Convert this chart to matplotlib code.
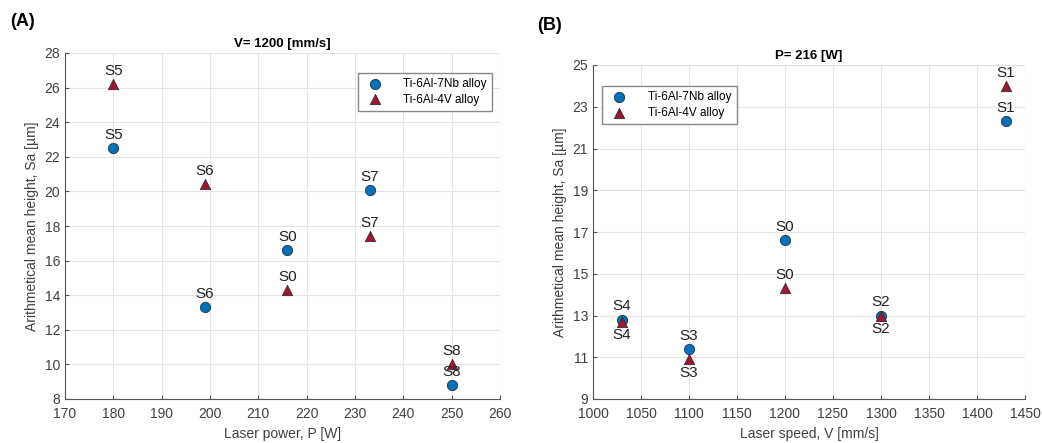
import matplotlib.pyplot as plt

plt.rcParams['font.family'] = ['Liberation Sans', 'DejaVu Sans']

# Panel A: constant speed V = 1200 mm/s
power = [180, 199, 216, 233, 250]
power_labels = ['S5', 'S6', 'S0', 'S7', 'S8']
sa_nb_power = [22.5, 13.3, 16.6, 20.1, 8.8]
sa_v_power = [26.2, 20.4, 14.3, 17.4, 10.0]

# Panel B: constant power P = 216 W
speed = [1030, 1100, 1200, 1300, 1430]
speed_labels = ['S4', 'S3', 'S0', 'S2', 'S1']
sa_nb_speed = [12.8, 11.4, 16.6, 13.0, 22.3]
sa_v_speed = [12.7, 10.9, 14.3, 13.0, 24.0]
# label above (+1) or below (-1) the marker
nb_side_speed = [1, 1, 1, 1, 1]
v_side_speed = [-1, -1, 1, -1, 1]

NB_COLOR = '#0072BD'
V_COLOR = '#A2142F'
TEXT = '#404040'


def style_axes(ax):
    ax.grid(True, color='#e3e3e3', linewidth=0.8)
    ax.set_axisbelow(True)
    for s in ['top', 'right']:
        ax.spines[s].set_visible(False)
    for s in ['left', 'bottom']:
        ax.spines[s].set_color('#555555')
        ax.spines[s].set_linewidth(0.8)
    ax.tick_params(direction='in', length=3, color='#555555',
                   labelcolor=TEXT, labelsize=10)
    ax.tick_params(axis='x', pad=6)


def panel(ax, x, nb, v, labels, nb_side, v_side, dy):
    ax.scatter(x, nb, s=55, marker='o', color=NB_COLOR, edgecolor='#303030',
               linewidth=0.6, zorder=3, label='Ti-6Al-7Nb alloy')
    ax.scatter(x, v, s=55, marker='^', color=V_COLOR, edgecolor='#303030',
               linewidth=0.6, zorder=3, label='Ti-6Al-4V alloy')
    for xi, yi, lab, sd in zip(x, nb, labels, nb_side):
        ax.text(xi, yi + sd * dy, lab, ha='center',
                va='bottom' if sd > 0 else 'top', fontsize=11, color='#222222')
    for xi, yi, lab, sd in zip(x, v, labels, v_side):
        ax.text(xi, yi + sd * dy, lab, ha='center',
                va='bottom' if sd > 0 else 'top', fontsize=11, color='#222222')


def add_legend(ax, loc, anchor):
    ax.legend(loc=loc, bbox_to_anchor=anchor, fontsize=8.5,
              frameon=True, fancybox=False, edgecolor='#888888',
              framealpha=1, handletextpad=1.4, borderpad=0.45,
              labelspacing=0.3)


fig = plt.figure(figsize=(10.42, 4.43), dpi=100)
ax1 = fig.add_axes([65 / 1042, 1 - 399 / 443, 435 / 1042, 346 / 443])
ax2 = fig.add_axes([593 / 1042, 1 - 399 / 443, 432 / 1042, 334 / 443])

panel(ax1, power, sa_nb_power, sa_v_power, power_labels,
      [1] * 5, [1] * 5, 0.35)
ax1.set_xlim(170, 260)
ax1.set_ylim(8, 28)
ax1.set_xticks(range(170, 261, 10))
ax1.set_yticks(range(8, 29, 2))
ax1.set_xlabel('Laser power, P [W]', fontsize=10, color=TEXT)
ax1.set_ylabel('Arithmetical mean height, Sa [\u00b5m]', fontsize=10, color=TEXT)
ax1.set_title('V= 1200 [mm/s]', fontsize=9.5, fontweight='bold', pad=4)
style_axes(ax1)
add_legend(ax1, 'upper right', (0.995, 0.96))

panel(ax2, speed, sa_nb_speed, sa_v_speed, speed_labels,
      nb_side_speed, v_side_speed, 0.3)
ax2.set_xlim(1000, 1450)
ax2.set_ylim(9, 25)
ax2.set_xticks(range(1000, 1451, 50))
ax2.set_yticks(range(9, 26, 2))
ax2.set_xlabel('Laser speed, V [mm/s]', fontsize=10, color=TEXT)
ax2.set_ylabel('Arithmetical mean height, Sa [\u00b5m]', fontsize=10, color=TEXT)
ax2.set_title('P= 216 [W]', fontsize=9.5, fontweight='bold', pad=4)
style_axes(ax2)
add_legend(ax2, 'upper left', (0.008, 0.955))

fig.text(10 / 1042, 1 - 22 / 443, '(A)', fontsize=13, fontweight='bold',
         va='center')
fig.text(537 / 1042, 1 - 26 / 443, '(B)', fontsize=13, fontweight='bold',
         va='center')

fig.savefig('out.png', dpi=100)
